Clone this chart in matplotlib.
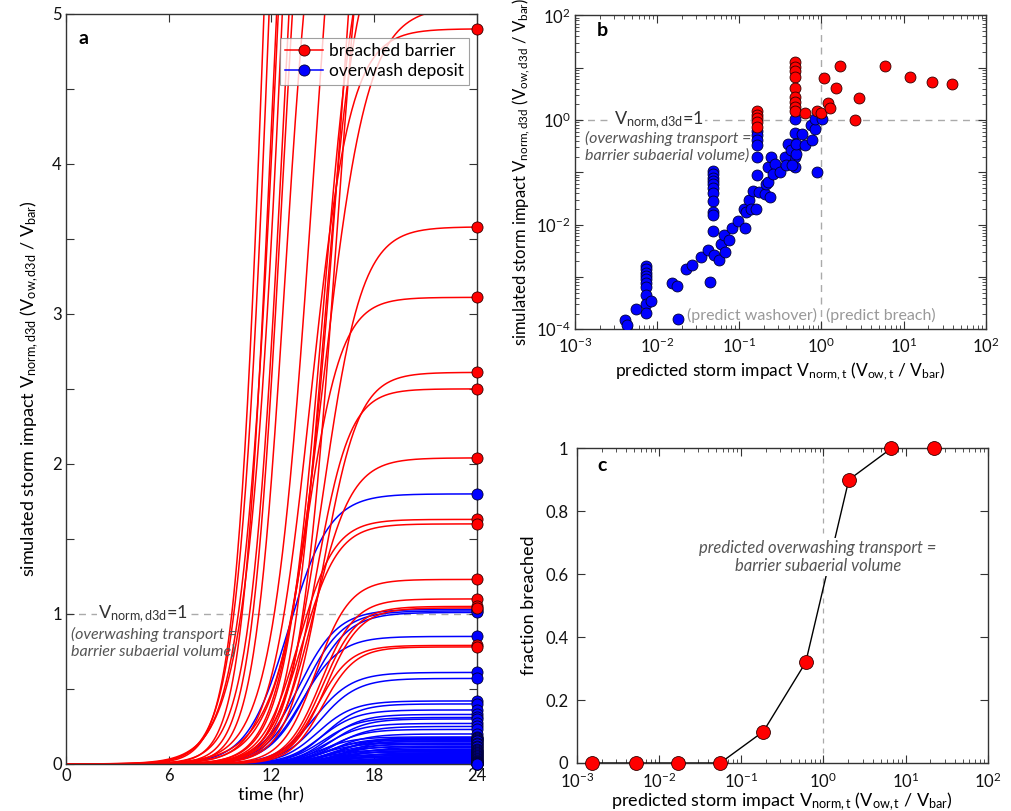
import numpy as np
import matplotlib
matplotlib.use('Agg')
import matplotlib.pyplot as plt
from matplotlib.legend_handler import HandlerLine2D
from matplotlib.lines import Line2D
from matplotlib.ticker import FixedLocator, FuncFormatter, LogLocator, NullFormatter

plt.rcParams['font.family'] = ['Lato', 'DejaVu Sans']
plt.rcParams['mathtext.fontset'] = 'custom'
plt.rcParams['mathtext.rm'] = 'Lato'
plt.rcParams['mathtext.it'] = 'Lato:italic'
plt.rcParams['font.size'] = 12

# ---- panel a: each run = plateau value, mid-rise time (hr), rise width (hr)
red_final = [4.90, 3.58, 3.11, 2.61, 2.50, 2.04, 1.63, 1.60, 1.23, 1.10,
             1.05, 1.04, 0.79, 0.78, 5.05, 12.0, 11.0, 13.0, 9.0, 7.5,
             6.5, 8.0, 10.0, 6.0, 7.0, 5.6, 11.5, 8.5]
red_mid = [14.3, 15.0, 14.0, 15.0, 14.6, 14.5, 13.6, 13.8, 14.6, 14.9,
           15.0, 15.2, 14.7, 15.0, 15.0, 12.2, 12.6, 13.2, 12.8, 12.6,
           12.8, 14.5, 16.5, 15.0, 15.8, 15.0, 11.8, 12.0]
red_width = [2.3, 2.3, 2.1, 2.1, 2.0, 2.2, 2.1, 2.1, 2.0, 2.0,
             2.0, 2.0, 1.9, 1.9, 2.6, 2.0, 2.2, 2.4, 2.0, 1.8,
             1.8, 2.4, 3.0, 2.2, 2.2, 2.0, 1.8, 1.7]

blue_final = [1.80, 1.03, 1.02, 1.01, 0.85, 0.61, 0.57, 0.42, 0.40, 0.36,
              0.33, 0.31, 0.30, 0.27, 0.25, 0.23, 0.20, 0.18, 0.175, 0.17,
              0.165, 0.16, 0.155, 0.15, 0.14, 0.135, 0.13, 0.12, 0.115, 0.11,
              0.10, 0.095, 0.09, 0.085, 0.08, 0.075, 0.07, 0.065, 0.06, 0.055,
              0.05, 0.045, 0.04, 0.035, 0.03, 0.025, 0.02, 0.018, 0.015, 0.012,
              0.01, 0.008, 0.006, 0.005, 0.004, 0.003, 0.002, 0.0015, 0.001, 0.0005]
blue_mid = [13.0, 13.6, 13.9, 14.2, 13.8, 14.5, 14.8, 14.7, 15.1, 14.9,
            15.3, 15.0, 15.5, 15.2, 15.7, 15.4, 15.6, 14.8, 16.0, 15.3,
            15.8, 15.1, 16.3, 15.5, 14.9, 16.1, 15.4, 15.9, 15.2, 16.5,
            15.7, 15.0, 16.2, 15.6, 15.3, 16.7, 15.9, 15.1, 16.4, 15.5,
            16.0, 15.2, 16.6, 15.8, 15.4, 16.1, 15.7, 15.3, 16.5, 15.9,
            15.5, 16.2, 15.8, 15.4, 16.0, 15.6, 16.3, 15.9, 15.5, 16.1]
blue_width = [2.4, 2.3, 2.3, 2.3, 2.2, 2.2, 2.2, 2.1, 2.0, 2.1,
              2.0, 2.1, 2.0, 2.1, 2.0, 2.0, 2.1, 2.0, 1.9, 2.0,
              2.1, 2.0, 1.9, 2.0, 2.1, 1.9, 2.0, 2.0, 2.1, 1.9,
              2.0, 2.1, 1.9, 2.0, 2.0, 1.9, 2.0, 2.1, 1.9, 2.0,
              2.0, 2.1, 1.9, 2.0, 2.0, 1.9, 2.0, 2.1, 1.9, 2.0,
              2.0, 1.9, 2.0, 2.0, 1.9, 2.0, 1.9, 2.0, 2.0, 1.9]

# ---- panel b: predicted vs simulated storm impact
red_pred = [0.165, 0.165, 0.165, 0.165, 0.165,
            0.474, 0.474, 0.474, 0.474, 0.474, 0.474, 0.474, 0.474, 0.474,
            0.64, 0.895, 0.984, 1.09, 1.67, 1.50, 1.21, 1.26, 2.55, 2.88,
            5.90, 12.1, 22.4, 38.9]
red_sim = [1.52, 1.27, 1.07, 0.90, 0.75,
           12.7, 10.5, 8.8, 6.6, 4.1, 2.73, 2.19, 1.81, 1.46,
           1.35, 1.46, 1.35, 6.5, 10.8, 4.05, 2.13, 1.71, 1.02, 2.58,
           10.8, 6.6, 5.3, 4.8]
blue_pred = [0.165, 0.165, 0.165, 0.165, 0.165, 0.165,
             0.474, 0.474, 0.474, 0.474, 0.474, 0.474,
             0.048, 0.048, 0.048, 0.048, 0.048, 0.048, 0.048, 0.048, 0.048, 0.048, 0.048,
             0.00745, 0.00745, 0.00745, 0.00745, 0.00745, 0.00745, 0.00745, 0.00745,
             0.00745, 0.00745, 0.00839,
             4.06e-3, 4.26e-3, 5.62e-3, 1.54e-2, 1.76e-2, 1.81e-2, 2.28e-2, 2.67e-2,
             3.41e-2, 4.19e-2, 4.47e-2, 4.95e-2, 5.70e-2, 6.08e-2, 6.68e-2, 6.56e-2,
             7.55e-2, 8.13e-2, 9.70e-2, 0.117, 0.114, 0.122, 0.132, 0.141, 0.148,
             0.162, 0.175, 0.204, 0.211, 0.225, 0.235, 0.225, 0.247, 0.271, 0.259,
             0.312, 0.359, 0.376, 0.394, 0.433, 0.444, 0.498, 0.498, 0.589, 0.628,
             0.743, 0.778, 0.832, 0.832, 1.02, 0.895]
blue_sim = [0.614, 0.507, 0.419, 0.327, 0.196, 0.0875,
            1.05, 0.562, 0.352, 0.282, 0.196, 0.126,
            0.106, 0.0914, 0.0791, 0.0682, 0.059, 0.0509, 0.0403, 0.0279, 0.0175, 0.0151, 0.00759,
            1.61e-3, 1.39e-3, 1.20e-3, 1.04e-3, 8.95e-4, 7.74e-4, 6.31e-4, 4.51e-4,
            2.99e-4, 2.01e-4, 3.52e-4,
            1.50e-4, 1.21e-4, 2.40e-4, 7.74e-4, 6.68e-4, 1.55e-4, 1.39e-3, 1.68e-3,
            2.39e-3, 3.25e-3, 8.09e-4, 2.61e-3, 2.09e-3, 4.36e-3, 3.02e-3, 6.28e-3,
            5.19e-3, 8.67e-3, 1.18e-2, 8.67e-3, 2.02e-2, 1.75e-2, 2.92e-2, 2.00e-2, 4.40e-2,
            2.02e-2, 4.21e-2, 3.91e-2, 6.07e-2, 6.53e-2, 3.38e-2, 0.126, 0.196, 0.146, 0.0942,
            0.101, 0.196, 0.136, 0.352, 0.262, 0.136, 0.226, 0.352, 0.546, 0.327,
            0.787, 0.419, 0.679, 1.05, 1.05, 0.101]

# ---- panel c: binned fraction breached
bin_pred = [1.55e-3, 5.2e-3, 1.71e-2, 5.55e-2, 0.186, 0.61, 2.04, 6.73, 22.2]
frac_breached = [0, 0, 0, 0, 0.10, 0.32, 0.90, 1.0, 1.0]

RED = '#ff0000'
BLUE = '#0000ff'
GRAY_TXT = '#555555'
SPINE = '#333333'


def storm_curve(t, final, mid, width):
    return final * 0.5 * (1 + np.tanh((t - mid) / width))


class EndMarker(HandlerLine2D):
    def get_xdata(self, legend, xdescent, ydescent, width, height, fontsize):
        x = np.array([-xdescent, -xdescent + width])
        return x, np.array([-xdescent + width])


def style_axes(ax, xpad=3, ypad=3):
    for s in ax.spines.values():
        s.set_color(SPINE)
        s.set_linewidth(1.0)
    ax.tick_params(which='both', direction='in', top=True, right=True,
                   colors=SPINE, labelcolor='#111111', labelsize=12)
    ax.tick_params(which='major', length=6)
    ax.tick_params(which='minor', length=3)
    ax.tick_params(axis='x', pad=xpad)
    ax.tick_params(axis='y', pad=ypad)


def log_fmt(show):
    def f(v, pos):
        e = int(round(np.log10(v)))
        return r'$\mathregular{10^{%d}}$' % e if e in show else ''
    return FuncFormatter(f)


fig = plt.figure(figsize=(10.12, 8.11), dpi=100)

# ================= panel a =================
axa = fig.add_axes([0.0652, 0.058, 0.406, 0.925])
t = np.linspace(0, 24, 481)
for A, m, w in zip(blue_final, blue_mid, blue_width):
    axa.plot(t, storm_curve(t, A, m, w), color=BLUE, lw=1.1)
for A, m, w in zip(red_final, red_mid, red_width):
    axa.plot(t, storm_curve(t, A, m, w), color=RED, lw=1.1)
for A, m, w in zip(blue_final, blue_mid, blue_width):
    v = storm_curve(24, A, m, w)
    axa.plot(24, v, 'o', color=BLUE, ms=8, mec='#000033', mew=0.6, clip_on=False, zorder=5)
for A, m, w in zip(red_final, red_mid, red_width):
    v = storm_curve(24, A, m, w)
    if v <= 5:
        axa.plot(24, v, 'o', color=RED, ms=8, mec='#330000', mew=0.6, clip_on=False, zorder=6)
axa.axhline(1, color='#aaaaaa', ls=(0, (5, 4)), lw=1, zorder=0)
axa.text(4.5, 1.0, r'V$_{\mathregular{norm,d3d}}$=1', ha='center', va='center', fontsize=13,
         color='#333333', bbox=dict(fc='white', ec='none', pad=1))
axa.text(0.3, 0.81, '(overwashing transport =\nbarrier subaerial volume)', ha='left', va='center',
         fontsize=11.5, style='italic', color=GRAY_TXT, linespacing=1.2)
axa.set_xlim(0, 24)
axa.set_ylim(0, 5)
axa.set_xticks([0, 6, 12, 18, 24])
axa.yaxis.set_major_locator(FixedLocator(np.arange(0, 5.01, 0.5)))
axa.yaxis.set_major_formatter(FuncFormatter(lambda v, p: '%d' % v if abs(v - round(v)) < 1e-6 else ''))
style_axes(axa)
axa.set_xlabel('time (hr)', fontsize=13, labelpad=2)
axa.set_ylabel(r'simulated storm impact V$_{\mathregular{norm,d3d}}$ (V$_{\mathregular{ow,d3d}}$ / V$_{\mathregular{bar}}$)',
               fontsize=13, labelpad=8)
axa.text(0.03, 0.978, 'a', transform=axa.transAxes, fontsize=14, fontweight='bold', va='top')
h_red = Line2D([], [], color=RED, lw=1.1, marker='o', ms=8, mfc=RED, mec='#330000', mew=0.6)
h_blue = Line2D([], [], color=BLUE, lw=1.1, marker='o', ms=8, mfc=BLUE, mec='#000033', mew=0.6)
leg = axa.legend([h_red, h_blue], ['breached barrier', 'overwash deposit'], loc='upper right',
                 bbox_to_anchor=(0.98, 0.968), borderaxespad=0, fancybox=False, fontsize=12.5,
                 handlelength=2.2, handletextpad=0.3, borderpad=0.3, labelspacing=0.25,
                 handler_map={Line2D: EndMarker(numpoints=1)})
leg.get_frame().set_edgecolor('#888888')
leg.get_frame().set_linewidth(0.8)

# ================= panel b =================
axb = fig.add_axes([0.568, 0.594, 0.406, 0.387])
axb.set_xscale('log')
axb.set_yscale('log')
axb.axhline(1, color='#aaaaaa', ls=(0, (5, 4)), lw=1, zorder=0)
axb.axvline(1, color='#aaaaaa', ls=(0, (5, 4)), lw=1, zorder=0)
axb.scatter(blue_pred, blue_sim, s=62, c=BLUE, edgecolors='#000033', linewidths=0.6, zorder=3)
axb.scatter(red_pred, red_sim, s=62, c=RED, edgecolors='#330000', linewidths=0.6, zorder=4)
axb.set_xlim(1e-3, 1e2)
axb.set_ylim(1e-4, 1e2)
axb.xaxis.set_major_locator(FixedLocator([1e-3, 1e-2, 1e-1, 1, 10, 100]))
axb.xaxis.set_major_formatter(log_fmt({-3, -2, -1, 0, 1, 2}))
axb.yaxis.set_major_locator(FixedLocator([1e-4, 1e-3, 1e-2, 1e-1, 1, 10, 100]))
axb.yaxis.set_major_formatter(log_fmt({-4, -2, 0, 2}))
for ax_ in (axb.xaxis, axb.yaxis):
    ax_.set_minor_locator(LogLocator(base=10, subs=np.arange(2, 10), numticks=20))
    ax_.set_minor_formatter(NullFormatter())
style_axes(axb, xpad=5)
axb.text(10 ** -1.98, 1.0, r'V$_{\mathregular{norm,d3d}}$=1', ha='center', va='center', fontsize=13,
         color='#333333', bbox=dict(fc='white', ec='none', pad=1))
axb.text(10 ** -2.87, 10 ** -0.52, '(overwashing transport =\nbarrier subaerial volume)', ha='left',
         va='center', fontsize=11.5, style='italic', color=GRAY_TXT, linespacing=1.2)
axb.text(0.88, 10 ** -3.73, '(predict washover)', ha='right', va='center', fontsize=11.5, color='#999999')
axb.text(1.13, 10 ** -3.73, '(predict breach)', ha='left', va='center', fontsize=11.5, color='#999999')
axb.text(0.054, 0.952, 'b', transform=axb.transAxes, fontsize=14, fontweight='bold', va='center')
axb.set_xlabel(r'predicted storm impact V$_{\mathregular{norm,t}}$ (V$_{\mathregular{ow,t}}$ / V$_{\mathregular{bar}}$)',
               fontsize=12.5, labelpad=3)
axb.set_ylabel(r'simulated storm impact V$_{\mathregular{norm,d3d}}$ (V$_{\mathregular{ow,d3d}}$ / V$_{\mathregular{bar}}$)',
               fontsize=12, labelpad=3)

# ================= panel c =================
axc = fig.add_axes([0.570, 0.0592, 0.406, 0.388])
axc.set_xscale('log')
axc.axvline(1, color='#aaaaaa', ls=(0, (4, 4)), lw=0.9, zorder=0)
axc.plot(bin_pred, frac_breached, '-', color='k', lw=1.0, zorder=2)
axc.text(0.855, 0.655, 'predicted overwashing transport =\nbarrier subaerial volume', ha='center',
         va='center', fontsize=12, style='italic', color=GRAY_TXT, linespacing=1.2,
         bbox=dict(fc='white', ec='none', pad=1), zorder=3)
axc.plot(bin_pred, frac_breached, 'o', color=RED, ms=10, mec='#330000', mew=0.6,
         clip_on=False, zorder=4)
axc.set_xlim(1e-3, 1e2)
axc.set_ylim(0, 1)
axc.xaxis.set_major_locator(FixedLocator([1e-3, 1e-2, 1e-1, 1, 10, 100]))
axc.xaxis.set_major_formatter(log_fmt({-3, -2, -1, 0, 1, 2}))
axc.xaxis.set_minor_locator(LogLocator(base=10, subs=np.arange(2, 10), numticks=20))
axc.xaxis.set_minor_formatter(NullFormatter())
axc.set_yticks([0, 0.2, 0.4, 0.6, 0.8, 1])
axc.yaxis.set_major_formatter(FuncFormatter(lambda v, p: '%g' % v))
style_axes(axc, xpad=6, ypad=6)
axc.text(0.051, 0.946, 'c', transform=axc.transAxes, fontsize=14, fontweight='bold', va='center')
axc.set_xlabel(r'predicted storm impact V$_{\mathregular{norm,t}}$ (V$_{\mathregular{ow,t}}$ / V$_{\mathregular{bar}}$)',
               fontsize=13, labelpad=0)
axc.set_ylabel('fraction breached', fontsize=13, labelpad=6)

fig.savefig('out.png', dpi=100)
